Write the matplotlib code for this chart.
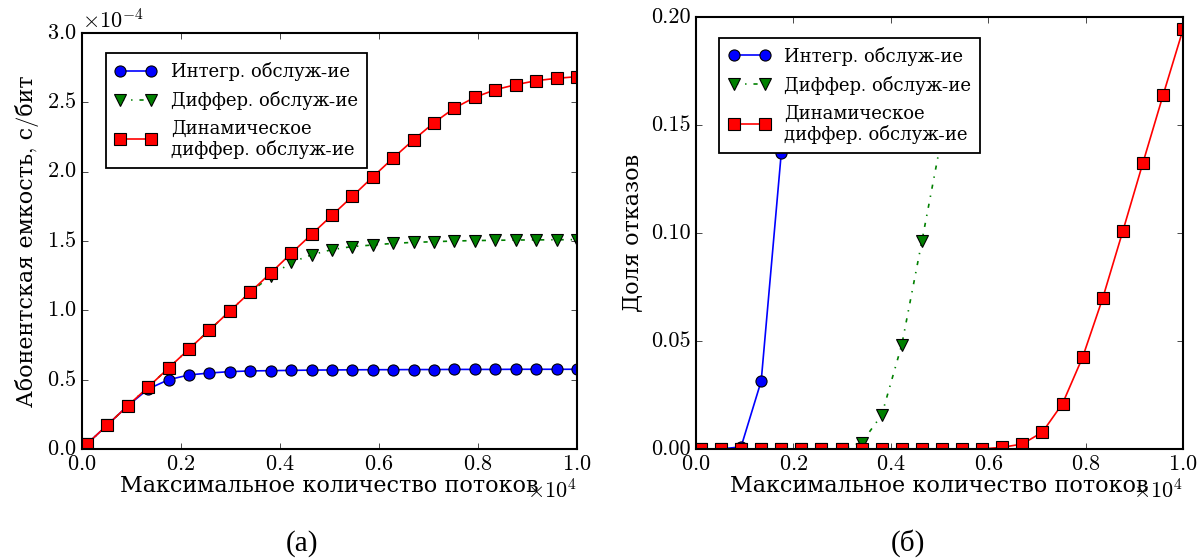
import matplotlib
matplotlib.use("Agg")
import matplotlib.pyplot as plt
import matplotlib.ticker as ticker
import numpy as np

plt.style.use("classic")
plt.rcParams["font.family"] = ["cmr10", "DejaVu Serif"]
plt.rcParams["mathtext.fontset"] = "cm"
plt.rcParams["axes.formatter.use_mathtext"] = True
plt.rcParams["axes.unicode_minus"] = False
plt.rcParams["figure.facecolor"] = "white"
plt.rcParams["savefig.facecolor"] = "white"

# максимальное количество потоков
flows = [100, 512, 925, 1338, 1750, 2162, 2575, 2988, 3400, 3812, 4225, 4638, 5050,
         5462, 5875, 6288, 6700, 7112, 7525, 7938, 8350, 8762, 9175, 9588, 10000]

labels = ["Интегр. обслуж-ие", "Диффер. обслуж-ие", "Динамическое\nдиффер. обслуж-ие"]

# (а) абонентская емкость, x1e-4 с/бит
cap_integr = [0.036, 0.173, 0.312, 0.433, 0.500, 0.534, 0.548, 0.558, 0.563, 0.565, 0.567,
              0.569, 0.570, 0.571, 0.572, 0.572, 0.573, 0.573, 0.574, 0.574, 0.574, 0.575,
              0.575, 0.575, 0.575]
cap_differ = [0.036, 0.173, 0.312, 0.447, 0.584, 0.721, 0.858, 0.995, 1.132, 1.245, 1.345,
              1.400, 1.438, 1.460, 1.471, 1.483, 1.490, 1.495, 1.500, 1.503, 1.505, 1.507,
              1.508, 1.509, 1.510]
cap_dynamic = [0.036, 0.173, 0.312, 0.447, 0.584, 0.721, 0.858, 0.995, 1.132, 1.269, 1.410,
               1.548, 1.685, 1.822, 1.962, 2.099, 2.230, 2.353, 2.459, 2.536, 2.591, 2.627,
               2.656, 2.673, 2.685]

# (б) доля отказов (серии обрываются за пределами оси)
rej_integr = [0.0, 0.0, 0.001, 0.0315, 0.137]
rej_differ = [0.0, 0.0, 0.0, 0.0, 0.0, 0.0, 0.0, 0.0, 0.003, 0.0157, 0.0483, 0.0963, 0.145]
rej_dynamic = [0.0, 0.0, 0.0, 0.0, 0.0, 0.0, 0.0, 0.0, 0.0, 0.0, 0.0, 0.0, 0.0, 0.0, 0.0,
               0.0008, 0.0023, 0.0078, 0.021, 0.0425, 0.0698, 0.1008, 0.1324, 0.1637, 0.1943]

STYLES = [
    dict(color="b", marker="o", linestyle="-", markersize=8),
    dict(color="g", marker="v", linestyle="-.", markersize=8.5),
    dict(color="r", marker="s", linestyle="-", markersize=8.5),
]
LBL = 16
TCK = 16

fig = plt.figure(figsize=(12.04, 5.6), dpi=100)
ax1 = fig.add_axes([0.0681, 0.1982, 0.4111, 0.7429])
ax2 = fig.add_axes([0.5781, 0.1982, 0.4045, 0.7714])

x = np.array(flows)
series1 = [np.array(cap_integr) * 1e-4, np.array(cap_differ) * 1e-4, np.array(cap_dynamic) * 1e-4]
series2 = [rej_integr, rej_differ, rej_dynamic]

for s, st, lb in zip(series1, STYLES, labels):
    ax1.plot(x[:len(s)], s, label=lb, linewidth=1.2, markeredgecolor="k",
             markeredgewidth=0.8, **st)
for s, st, lb in zip(series2, STYLES, labels):
    ax2.plot(x[:len(s)], s, label=lb, linewidth=1.2, markeredgecolor="k",
             markeredgewidth=0.8, **st)

ax1.set_ylim(0, 3e-4)
ax1.yaxis.set_major_locator(ticker.MultipleLocator(0.5e-4))
ax2.set_ylim(0, 0.2)
ax2.yaxis.set_major_locator(ticker.MultipleLocator(0.05))
ax2.yaxis.set_major_formatter(ticker.FormatStrFormatter("%.2f"))

for ax in (ax1, ax2):
    ax.set_xlim(0, 10000)
    ax.xaxis.set_major_locator(ticker.MultipleLocator(2000))
    ax.ticklabel_format(axis="x", style="sci", scilimits=(0, 0), useMathText=True)
    ax.tick_params(labelsize=TCK, direction="in", top=True, right=True)
    ax.xaxis.get_offset_text().set_fontsize(TCK)
    for sp in ax.spines.values():
        sp.set_linewidth(1.5)
    ax.set_xlabel("Максимальное количество потоков", fontsize=LBL, labelpad=2)

ax1.ticklabel_format(axis="y", style="sci", scilimits=(0, 0), useMathText=True)
ax1.yaxis.get_offset_text().set_fontsize(TCK)

ax1.set_ylabel("Абонентская емкость, с/бит", fontsize=LBL, labelpad=6)
ax2.set_ylabel("Доля отказов", fontsize=LBL, labelpad=6)

for ax in (ax1, ax2):
    leg = ax.legend(loc="upper left", bbox_to_anchor=(0.048, 0.952), numpoints=2,
                    fontsize=13, fancybox=False, borderaxespad=0, handlelength=2.3,
                    labelspacing=0.55, borderpad=0.5)
    leg.get_frame().set_linewidth(1.3)
    leg.get_frame().set_edgecolor("k")

fig.text(0.251, 0.030, "(а)", fontsize=21, family="Liberation Serif", ha="center", va="center")
fig.text(0.754, 0.030, "(б)", fontsize=21, family="Liberation Serif", ha="center", va="center")

fig.savefig("out.png", dpi=100)
